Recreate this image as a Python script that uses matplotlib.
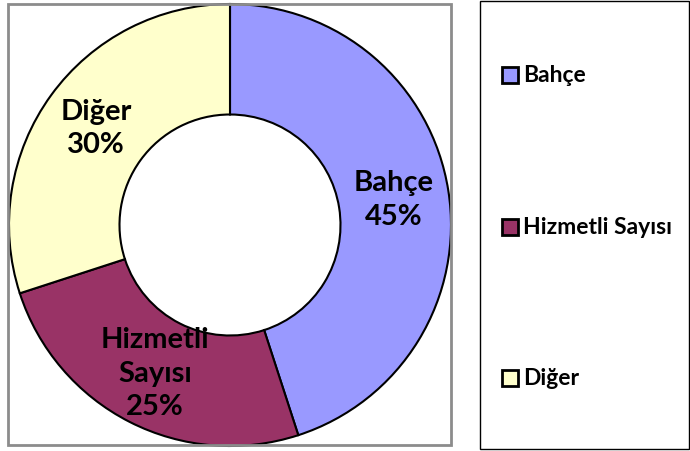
import matplotlib
matplotlib.use("Agg")
import matplotlib.pyplot as plt
from matplotlib.patches import Rectangle

categories = ["Bahçe", "Hizmetli Sayısı", "Diğer"]
values = [45, 25, 30]
label_lines = ["Bahçe", "Hizmetli\nSayısı", "Diğer"]
colors = ["#9999FF", "#993366", "#FFFFCC"]

W, H = 690, 452
fig = plt.figure(figsize=(W / 100, H / 100), dpi=100)
plt.rcParams['font.family'] = ['Lato', 'DejaVu Sans']

# plot area border
fig.patches.append(Rectangle((8 / W, 6 / H), 443 / W, 441 / H, transform=fig.transFigure,
                             fill=False, edgecolor="#8c8c8c", linewidth=2, zorder=0))

ax = fig.add_axes([9 / W, 5 / H, 442 / W, 442 / H])

idx = iter(range(len(values)))
def fmt(p):
    i = next(idx)
    return f"{label_lines[i]}\n{p:.0f}%"

wedges, texts = ax.pie(values, colors=colors, startangle=90, counterclock=False,
                       radius=1, wedgeprops=dict(width=0.5, edgecolor="black", linewidth=1.5),
                       autopct=fmt, pctdistance=0.75,
                       textprops=dict(fontsize=21, fontweight="bold", color="black",
                                      linespacing=1.35))[:2]
ax.set_xlim(-1, 1)
ax.set_ylim(-1, 1)
ax.set_aspect("equal")
ax.axis("off")
for w in wedges:
    w.set_clip_on(False)

# legend box
fig.patches.append(Rectangle((480 / W, 2 / H), 209 / W, 448 / H, transform=fig.transFigure,
                             fill=False, edgecolor="black", linewidth=1, zorder=0))
ys = [76, 228, 379]
for cat, col, y in zip(categories, colors, ys):
    fig.patches.append(Rectangle((502 / W, (H - y - 8) / H), 16 / W, 16 / H,
                                 transform=fig.transFigure, facecolor=col,
                                 edgecolor="black", linewidth=2))
    fig.text(523 / W, (H - y) / H, cat, fontsize=16.5, fontweight="bold",
             va="center", ha="left")

fig.savefig("out.png", dpi=100)
